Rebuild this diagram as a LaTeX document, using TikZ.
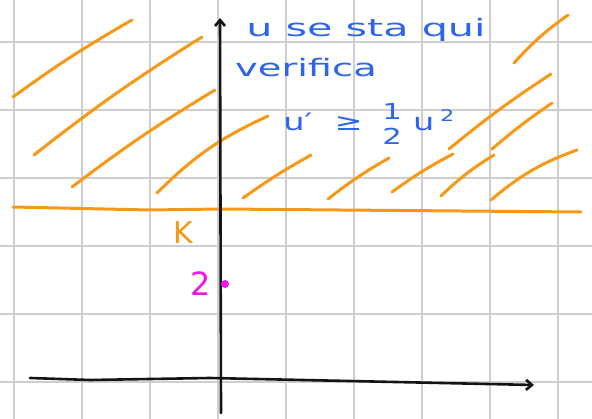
\documentclass[tikz,border=0pt]{standalone}
\usepackage{fontspec}
\setmainfont{DejaVu Sans}
\usepackage{tikz}
\usetikzlibrary{arrows.meta,positioning}
\definecolor{gridgray}{RGB}{206,206,206}
\definecolor{pen}{RGB}{20,20,20}
\definecolor{marker}{RGB}{247,152,22}
\definecolor{ink}{RGB}{45,100,240}
\definecolor{pink}{RGB}{240,20,230}
\newcommand{\fracfig}[1]{{\fontsize{22}{18}\selectfont #1}}
\newcommand{\supfig}[1]{{\fontsize{16}{16}\selectfont #1}}

\begin{document}
\begin{tikzpicture}[x=1pt,y=-1pt,
      line cap=round,line join=round,
      gridline/.style={draw=gridgray,line width=2pt},
      axis/.style={draw=pen,line width=2.6pt,-{Straight Barb[length=6pt,width=10pt]}},
      hatch/.style={draw=marker,line width=3pt},
      note/.style={text=ink,font=\fontsize{24}{26}\selectfont,inner sep=0pt},
    ]
    \useasboundingbox[fill=white] (0,0) rectangle (592,419);

    % squared paper
    \foreach \gx in {14,82,...,560}
      \draw[gridline] (\gx,0) -- (\gx,419);
    \foreach \gy in {42,110,...,400}
      \draw[gridline] (0,\gy) -- (592,\gy);

    % shaded region above K
    \foreach \ax/\ay/\bx/\by/\bend in {13/97/132/20/3, 34/155/202/37/3, 72/187/215/90/3,
        157/193/268/116/10, 243/198/311/155/3, 328/199/389/158/4, 392/192/453/154/4,
        441/196/494/155/6, 491/200/577/150/10, 449/149/551/74/3, 492/149/552/103/3,
        514/63/568/15/6}
      \draw[hatch] (\ax,\ay) to[bend left=\bend] (\bx,\by);

    % level K
    \coordinate (kleft) at (13,207);
    \coordinate (kright) at (581,212);
    \draw[hatch] (kleft) -- (150,210) -- (220,209) -- (kright);
    \node[text=marker,font=\fontsize{30}{30}\selectfont,inner sep=0pt] (klabel) at (183,233) {K};

    % axes
    \coordinate (ybottom) at (221,413);
    \coordinate (ytop) at (220,18);
    \coordinate (xleft) at (30,378);
    \coordinate (xright) at (534,385);
    \draw[axis] (ybottom) -- (ytop);
    \draw[axis] (xleft) -- (90,380) -- (210,378) -- (xright);

    % initial value
    \fill[pink] (225,284) circle (4pt) coordinate (start);
    \node[text=pink,font=\fontsize{32}{32}\selectfont,inner sep=0pt,left=14pt of start] (two) {2};

    % comment in blue
    \node[note,xscale=1.72] (line1) at (366,30) {u se sta qui};
    \node[note,xscale=1.6] (line2) at (306,68) {verifica};
    \node[note,xscale=1.4,anchor=west] (line3) at (283,124)
      {u′\hspace{16pt}≥\hspace{14pt}\raisebox{-14pt}{\fracfig{\shortstack{1\\[5pt]2}}}\hspace{8pt}u\hspace{4pt}\raisebox{9pt}{\supfig{2}}};
\end{tikzpicture}
\end{document}
